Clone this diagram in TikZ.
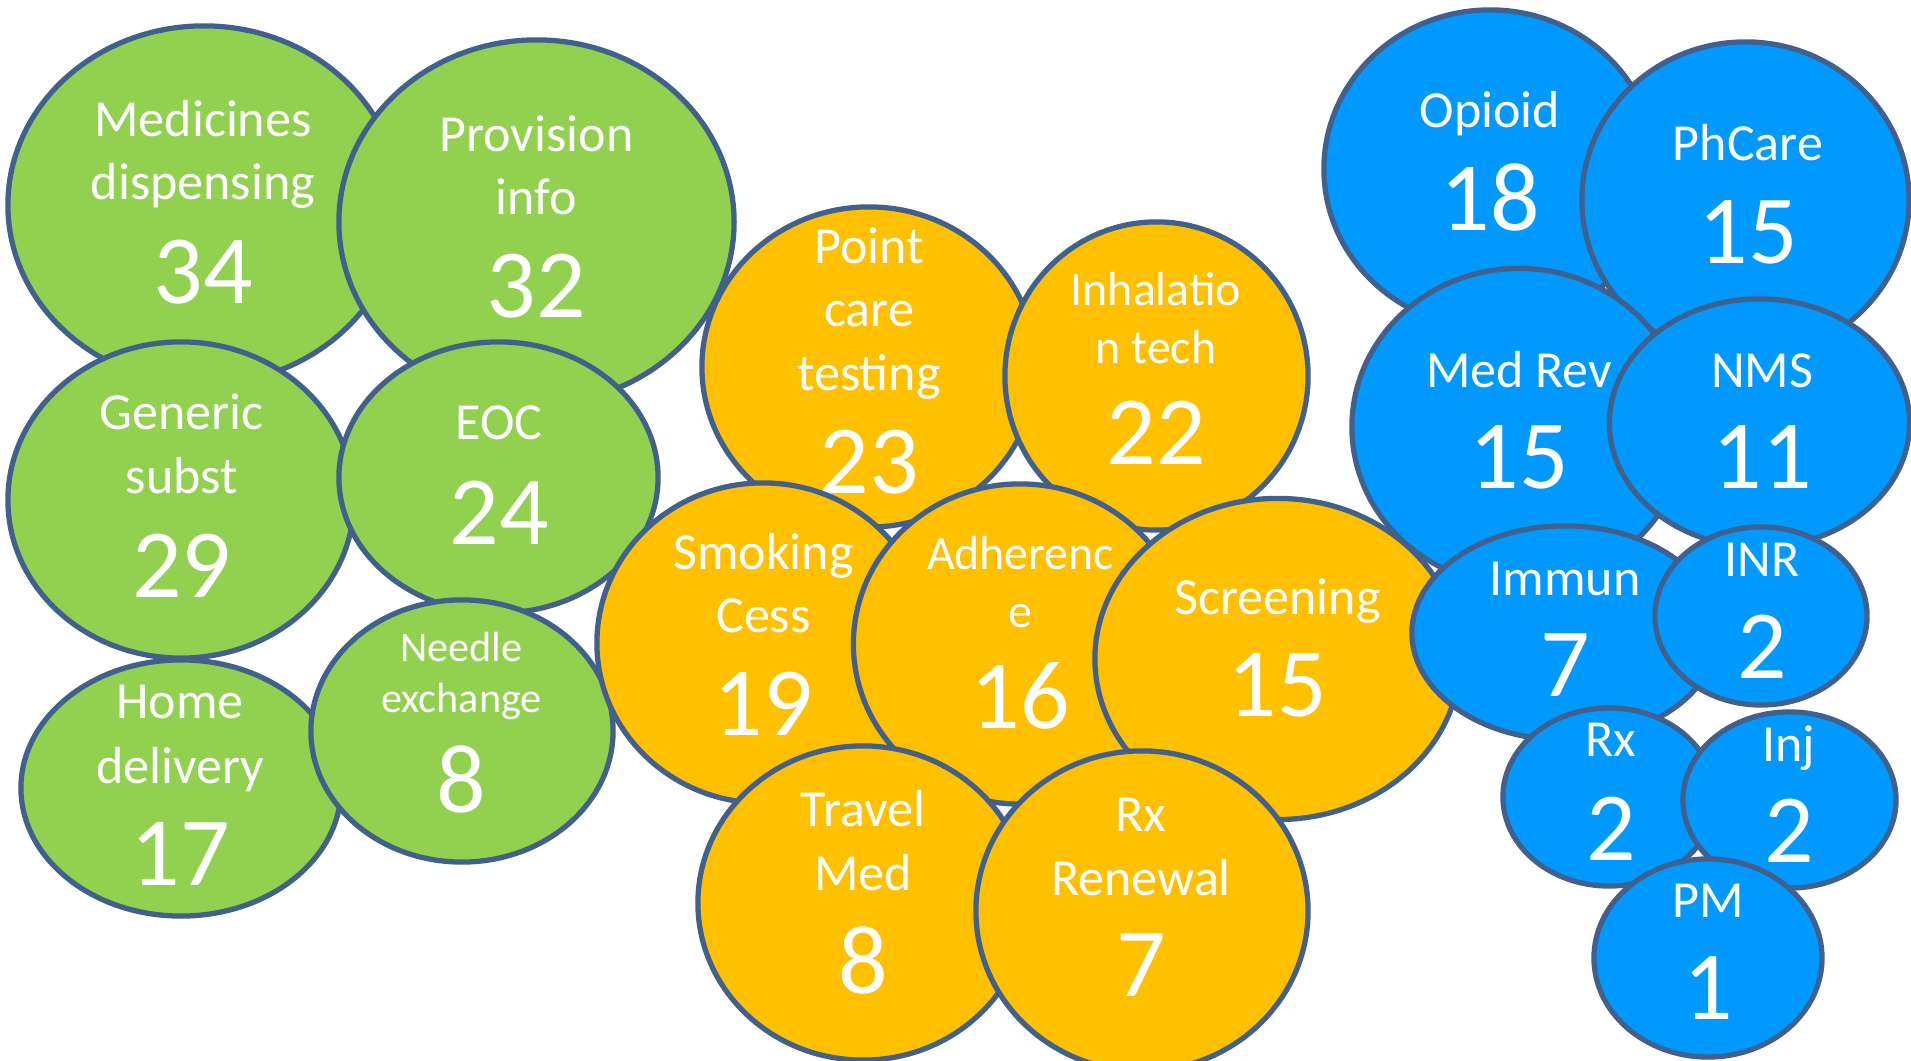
\documentclass[tikz,border=0pt]{standalone}
\usepackage{fontspec}
\setmainfont{Carlito}
\usetikzlibrary{shapes.geometric}
\definecolor{gfill}{HTML}{92D050}
\definecolor{ofill}{HTML}{FFC000}
\definecolor{bfill}{HTML}{0099FF}
\definecolor{edgec}{HTML}{41608C}
\begin{document}
\begin{tikzpicture}[x=0.01cm,y=-0.01cm,
  bub/.style={ellipse, draw=edgec, line width=1.5pt, inner sep=0pt},
  gb/.style={bub, fill=gfill},
  ob/.style={bub, fill=ofill},
  bb/.style={bub, fill=bfill},
  lab/.style={text=white, anchor=base, inner sep=0pt, font=\fontsize{14.8}{18}\selectfont},
  labm/.style={lab, font=\fontsize{13.6}{16}\selectfont},
  labs/.style={lab, font=\fontsize{12}{14}\selectfont},
  num/.style={lab, font=\fontsize{27.8}{33}\selectfont}]
\useasboundingbox (0,0) rectangle (1911,1061);
\clip (0,0) rectangle (1911,1061);
% green group
\node[gb, minimum width=3.92cm, minimum height=3.58cm] (g1) at (204,205) {};
\node[lab] (g1a) at (203,137) {Medicines};
\node[lab] (g1b) at (203,200) {dispensing};
\node[num] (g1n) at (203,304) {34};
\node[gb, minimum width=3.95cm, minimum height=3.64cm] (g2) at (536.5,222) {};
\node[lab] (g2a) at (536.5,152) {Provision};
\node[lab] (g2b) at (536.5,214.5) {info};
\node[num] (g2n) at (536.5,318) {32};
\node[gb, minimum width=3.46cm, minimum height=3.16cm] (g3) at (181,500) {};
\node[lab] (g3a) at (181.7,429.5) {Generic};
\node[lab] (g3b) at (181.7,493.6) {subst};
\node[num] (g3n) at (181.7,598) {29};
\node[gb, minimum width=3.19cm, minimum height=2.71cm] (g4) at (498.5,477.5) {};
\node[lab] (g4a) at (499,440) {EOC};
\node[num] (g4n) at (499,545) {24};
\node[gb, minimum width=3.20cm, minimum height=2.56cm] (g5) at (181,788) {};
\node[lab] (g5a) at (180,719) {Home};
\node[lab] (g5b) at (180,784) {delivery};
\node[num] (g5n) at (180,886) {17};
\node[gb, minimum width=3.02cm, minimum height=2.62cm] (g6) at (462,731) {};
\node[labs] (g6a) at (461.5,662) {Needle};
\node[labs] (g6b) at (461.5,713) {exchange};
\node[num] (g6n) at (461.5,813) {8};
% orange group
\node[ob, minimum width=3.34cm, minimum height=3.20cm] (o1) at (869,367) {};
\node[lab] (o1a) at (869,264) {Point};
\node[lab] (o1b) at (869,327) {care};
\node[lab] (o1c) at (869,391) {testing};
\node[num] (o1n) at (869,494) {23};
\node[ob, minimum width=3.03cm, minimum height=3.08cm] (o2) at (1156.5,376) {};
\node[labm] (o2a) at (1156,306) {Inhalatio};
\node[labm] (o2b) at (1156,364) {n tech};
\node[num] (o2n) at (1156,465) {22};
\node[ob, minimum width=3.32cm, minimum height=3.20cm] (o3) at (763,643) {};
\node[lab] (o3a) at (763.5,570) {Smoking};
\node[lab] (o3b) at (763.5,633) {Cess};
\node[num] (o3n) at (763.5,736) {19};
\node[ob, minimum width=3.33cm, minimum height=3.20cm] (o4) at (1020,644) {};
\node[labm] (o4a) at (1020.5,570) {Adherenc};
\node[labm] (o4b) at (1020.5,628) {e};
\node[num] (o4n) at (1020.5,729) {16};
\node[ob, minimum width=3.65cm, minimum height=3.21cm] (o5) at (1277.5,659) {};
\node[lab] (o5a) at (1277.5,615) {Screening};
\node[num] (o5n) at (1277.5,717) {15};
\node[ob, minimum width=3.30cm, minimum height=3.14cm] (o6) at (863,903) {};
\node[lab] (o6a) at (863,827) {Travel};
\node[lab] (o6b) at (863,891) {Med};
\node[num] (o6n) at (863,994) {8};
\node[ob, minimum width=3.32cm, minimum height=3.20cm] (o7) at (1142,911) {};
\node[lab] (o7a) at (1141,831) {Rx};
\node[lab] (o7b) at (1141,896) {Renewal};
\node[num] (o7n) at (1141,997) {7};
% blue group
\node[bb, minimum width=3.32cm, minimum height=3.18cm] (b1) at (1490,169) {};
\node[lab] (b1a) at (1490,128) {Opioid};
\node[num] (b1n) at (1490,231) {18};
\node[bb, minimum width=3.27cm, minimum height=3.16cm] (b2) at (1745.5,200) {};
\node[lab] (b2a) at (1748,161) {PhCare};
\node[num] (b2n) at (1748,264) {15};
\node[bb, minimum width=3.34cm, minimum height=3.17cm] (b3) at (1519,427) {};
\node[lab] (b3a) at (1519,388) {Med Rev};
\node[num] (b3n) at (1519,489) {15};
\node[bb, minimum width=3.00cm, minimum height=2.48cm] (b4) at (1759.5,423) {};
\node[lab] (b4a) at (1762,388) {NMS};
\node[num] (b4n) at (1762,489) {11};
\node[bb, minimum width=3.06cm, minimum height=2.14cm] (b5) at (1565,633) {};
\node[lab] (b5a) at (1565,596) {Immun};
\node[num] (b5n) at (1565,697) {7};
\node[bb, minimum width=2.12cm, minimum height=1.78cm] (b6) at (1761,616) {};
\node[lab] (b6a) at (1762,576.5) {INR};
\node[num] (b6n) at (1762,679) {2};
\node[bb, minimum width=2.12cm, minimum height=1.78cm] (b7) at (1609,797) {};
\node[lab] (b7a) at (1611,757) {Rx};
\node[num] (b7n) at (1611,860) {2};
\node[bb, minimum width=2.13cm, minimum height=1.76cm] (b8) at (1789.5,800) {};
\node[lab] (b8a) at (1789,762) {Inj};
\node[num] (b8n) at (1789,863) {2};
\node[bb, minimum width=2.28cm, minimum height=1.98cm] (b9) at (1708,958) {};
\node[lab] (b9a) at (1708,918) {PM};
\node[num] (b9n) at (1708,1019) {1};
\end{tikzpicture}
\end{document}
